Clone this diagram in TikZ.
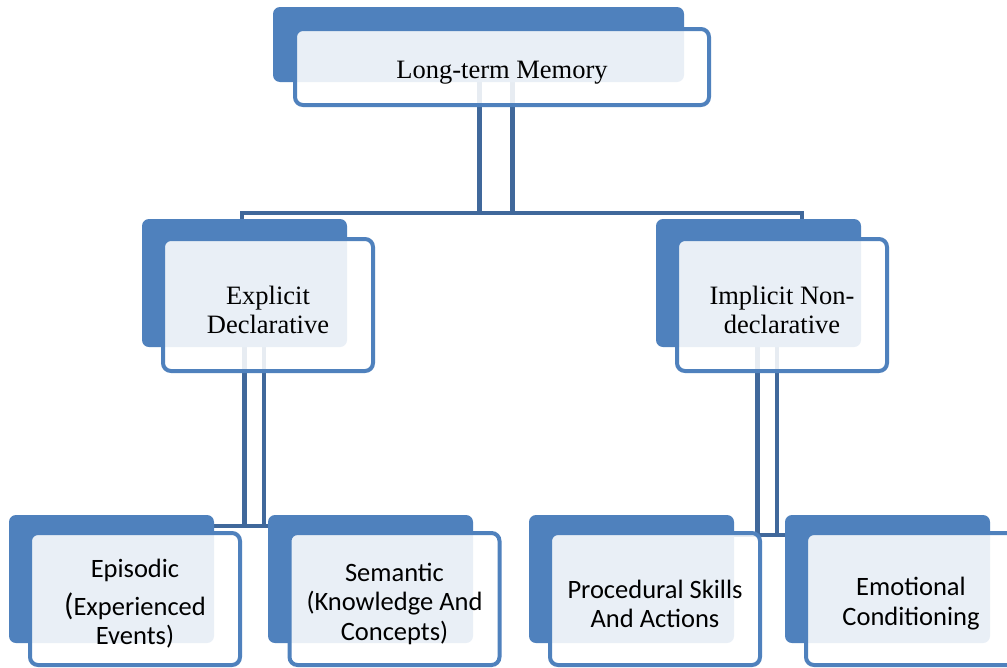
\documentclass[tikz,border=0pt]{standalone}
\usepackage{fontspec}
\setmainfont{Liberation Serif}
\setsansfont{Carlito}

\definecolor{boxblue}{RGB}{79,129,189}
\definecolor{linkblue}{RGB}{64,104,155}

\pgfdeclarelayer{links}
\pgfsetlayers{links,main}

% pushes the text of a box a little down
\newcommand{\lift}{\rule{0pt}{28pt}}

\tikzset{
  backbox/.style={fill=boxblue, rounded corners=7pt, minimum width=205pt, minimum height=128pt, inner sep=0pt},
  frontbox/.style={draw=boxblue, line width=4pt, fill=white, fill opacity=0.88, text opacity=1, rounded corners=8pt, minimum width=210pt, minimum height=132pt, inner sep=0pt, align=center},
  serifbox/.style={frontbox, font=\fontsize{26.5}{29.5}\selectfont},
  sansbox/.style={frontbox, font=\sffamily\fontsize{26.5}{29.5}\selectfont},
  vlink/.style={draw=linkblue, line width=5pt, double=white, double distance=28pt},
  vlinkthin/.style={draw=linkblue, line width=4.5pt, double=white, double distance=15pt},
  hbar/.style={draw=linkblue, line width=4pt}
}

\begin{document}
\begin{tikzpicture}[x=1pt,y=-1pt]
\useasboundingbox (0,0) rectangle (1007,667);
\clip (0,0) rectangle (1007,667);

% back plates
\node[backbox, minimum width=411pt, minimum height=75pt] (ltmb) at (478.5,44.5) {};
\node[backbox] (explb) at (244.5,283) {};
\node[backbox] (implb) at (758.5,283) {};
\node[backbox] (episb) at (111.5,579) {};
\node[backbox] (semab) at (370.5,579) {};
\node[backbox] (procb) at (631.5,579) {};
\node[backbox] (emotb) at (887.5,579) {};

% front boxes
\node[serifbox, minimum width=414pt, minimum height=76pt] (ltm) at (502,67) {\lift Long-term Memory};
\node[serifbox] (expl) at (268,305) {\lift Explicit\\Declarative};
\node[serifbox] (impl) at (782,305) {\lift Implicit Non-\\declarative};
\node[sansbox] (epis) at (135,599) {\lift Episodic\\[8pt]{\fontsize{31}{30}\selectfont(}Experienced\\Events)};
\node[sansbox] (sema) at (394.5,599) {\lift Semantic\\(Knowledge And\\Concepts)};
\node[sansbox] (proc) at (655,599) {\lift Procedural Skills\\And Actions};
\node[sansbox] (emot) at (911,599) {\lift Emotional\\Conditioning};

% connectors, behind the boxes
\begin{pgfonlayer}{links}
\fill[white] (0,0) rectangle (1007,667);
\coordinate (j0) at (496,213);
\coordinate (j1) at (254,526);
\coordinate (j2) at (767,535);
\draw[vlink] (ltm.center -| j0) -- (j0);
\draw[hbar] ([xshift=-26pt]expl.north) |- (j0) -| ([xshift=20pt]impl.north);
\draw[vlinkthin] (expl.center -| j1) -- (j1);
\draw[hbar] (epis.center) |- (j1) -| (sema.center);
\draw[vlinkthin] (impl.center -| j2) -- (j2);
\draw[hbar] (proc.center) |- (j2) -| (emot.center);
\end{pgfonlayer}
\end{tikzpicture}
\end{document}
